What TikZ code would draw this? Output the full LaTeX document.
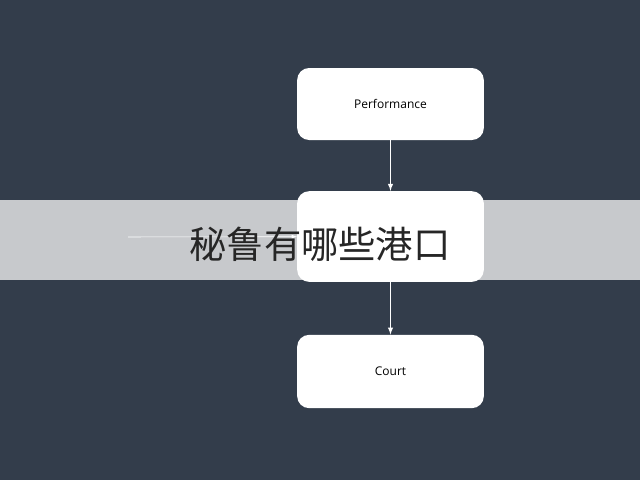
\documentclass[tikz,border=0pt]{standalone}
\usepackage{fontspec}
\setmainfont{Open Sans}
\newfontfamily\cjk{Noto Sans CJK SC}
\usepackage{tikz}
\tikzset{>=latex}
\definecolor{slate}{HTML}{333D4B}
\definecolor{band}{HTML}{C7C9CC}
\tikzset{flowbox/.style={fill=white,rounded corners=9pt,minimum width=140pt,font=\small}}
\begin{document}
\begin{tikzpicture}[x=0.75pt,y=-0.75pt]
            \fill[slate] (0,0) rectangle (640,480);
            \fill[band] (0,200) rectangle (640,280);
            \node[flowbox,minimum height=54pt] (perf) at (390.5,104) {Performance};
            \node[flowbox,minimum height=68pt] (loc) at (390.5,236.5) {};
            \node[flowbox,minimum height=55pt] (court) at (390.5,371.5) {Court};
            \coordinate (start) at (128,237);
            \draw[->,white,thick] (perf) -- (loc);
            \draw[->,white,thick] (loc) -- (court);
            \draw[->,white] (start) -- (loc);
            \node[font=\cjk\fontsize{28pt}{30pt}\selectfont,text=black!85] (title) at (320,244) {秘鲁有哪些港口};
        \end{tikzpicture}
\end{document}
